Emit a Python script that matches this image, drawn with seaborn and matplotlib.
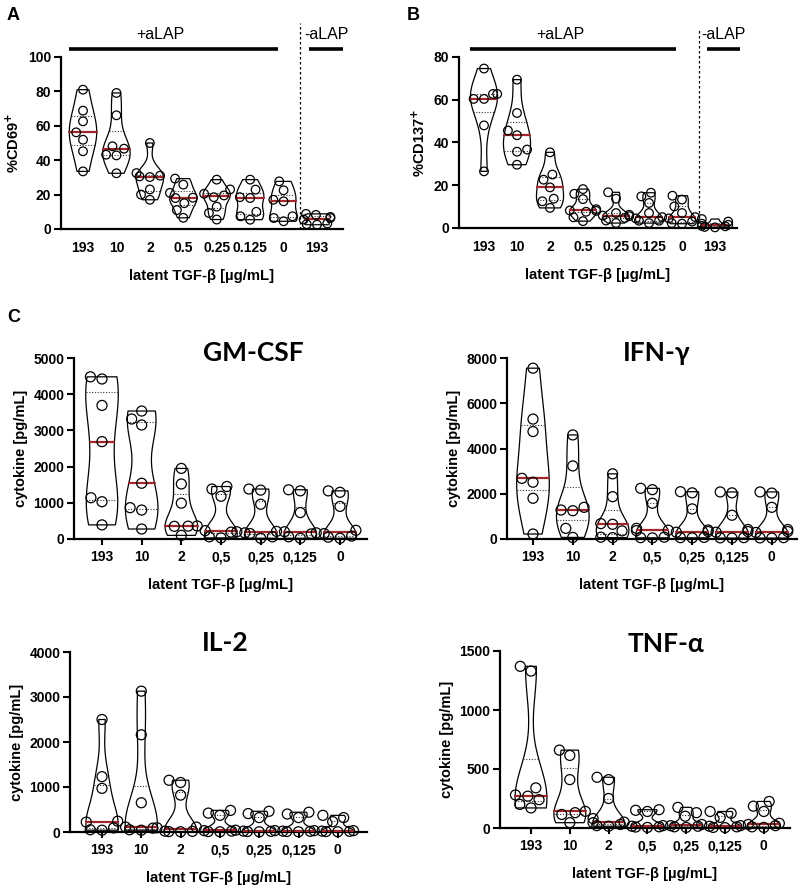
import numpy as np
import pandas as pd
import matplotlib
matplotlib.use("Agg")
import matplotlib.pyplot as plt
import matplotlib.transforms as mtransforms
import seaborn as sns

# ---------------- data ----------------
AB_LABELS = ["193", "10", "2", "0.5", "0.25", "0.125", "0", "193"]
C_LABELS = ["193", "10", "2", "0,5", "0,25", "0,125", "0"]

CD69 = [
    [81.0, 68.8, 62.6, 56.2, 51.9, 45.2, 33.5],
    [79.1, 66.1, 48.1, 46.7, 43.2, 42.8, 32.4],
    [50.0, 32.5, 31.0, 30.6, 30.2, 23.0, 20.0, 17.0],
    [29.3, 25.8, 21.0, 18.2, 18.0, 15.0, 11.0, 6.5],
    [28.7, 23.0, 20.5, 19.5, 18.5, 13.0, 9.3, 5.5],
    [28.7, 22.9, 18.5, 18.0, 10.0, 7.4, 5.4],
    [27.7, 22.5, 17.0, 16.1, 7.4, 6.4, 4.5],
    [8.8, 8.2, 7.0, 6.4, 5.5, 3.2, 2.8, 2.5],
]
CD137 = [
    [74.6, 62.7, 62.7, 60.4, 60.4, 48.0, 26.5],
    [69.4, 53.8, 45.6, 43.4, 36.7, 35.7, 29.6],
    [35.4, 25.0, 22.6, 19.0, 13.7, 12.5, 9.4],
    [18.2, 16.0, 13.5, 8.8, 8.2, 8.0, 7.6, 5.0, 3.2],
    [16.7, 13.7, 7.0, 6.2, 5.8, 5.5, 4.7, 3.5, 2.3],
    [16.5, 14.8, 11.7, 7.0, 5.1, 4.5, 3.4, 3.4, 2.3],
    [15.1, 13.3, 10.1, 7.0, 5.1, 4.5, 3.0, 2.3, 2.0],
    [4.2, 3.0, 2.0, 1.5, 1.0, 0.8, 0.5, 0.3],
]
GMCSF = [
    [4480, 4420, 3690, 2690, 1140, 1030, 390],
    [3535, 3315, 3150, 1540, 865, 800, 276],
    [1950, 1520, 990, 360, 355, 350, 100],
    [1450, 1380, 1180, 230, 200, 190, 60, 30],
    [1380, 1350, 960, 210, 170, 150, 60, 20],
    [1360, 1330, 730, 200, 170, 140, 60, 20],
    [1330, 1290, 900, 240, 150, 80, 50, 20],
]
IFNG = [
    [7550, 5300, 4750, 2680, 2510, 1800, 220],
    [4600, 3230, 1400, 1280, 1250, 470, 70],
    [2880, 1870, 680, 650, 360, 80, 60],
    [2240, 2180, 1580, 470, 390, 370, 80, 60, 50],
    [2090, 2040, 1330, 400, 330, 300, 70, 60, 50],
    [2080, 2040, 1050, 420, 330, 300, 60, 50, 40],
    [2080, 2030, 1400, 420, 330, 290, 60, 50, 40],
]
IL2 = [
    [2500, 1230, 970, 240, 220, 90, 50, 40],
    [3130, 2160, 650, 110, 95, 85, 50, 40],
    [1150, 1100, 820, 110, 20, 15, 10, 5],
    [480, 420, 370, 40, 30, 20, 10, 5],
    [460, 410, 320, 30, 20, 15, 10, 5],
    [440, 400, 320, 30, 20, 15, 10, 5],
    [370, 320, 230, 30, 20, 15, 10, 5],
]
TNFA = [
    [1370, 1330, 340, 280, 270, 240, 200, 170],
    [660, 615, 410, 141, 130, 115, 45],
    [430, 410, 250, 80, 50, 45, 30, 20, 15],
    [155, 150, 140, 20, 15, 10, 8, 5],
    [175, 130, 100, 30, 20, 15, 10, 5],
    [140, 125, 90, 20, 15, 10, 5, 3],
    [225, 185, 140, 40, 30, 20, 10, 5],
]

XLABEL = "latent TGF-β [µg/mL]"
MEDIAN_RED = "#a3262a"

# ---------------- style ----------------
sns.set_theme(style="ticks")
plt.rcParams["font.family"] = ["Liberation Sans", "DejaVu Sans"]
plt.rcParams["font.weight"] = "bold"
plt.rcParams["axes.labelweight"] = "bold"
plt.rcParams["mathtext.default"] = "bf"
plt.rcParams["axes.edgecolor"] = "black"
plt.rcParams["axes.labelcolor"] = "black"
plt.rcParams["text.color"] = "black"
plt.rcParams["xtick.color"] = "black"
plt.rcParams["ytick.color"] = "black"
plt.rcParams["xtick.labelcolor"] = "black"
plt.rcParams["ytick.labelcolor"] = "black"

W, H = 800, 893
fig = plt.figure(figsize=(W / 100, H / 100), dpi=100)


def panel(box, c0, step, labels, groups, ylim, yticks, ylabel,
          xtick_len, msize, ylabelsize=10.5):
    left, top, right, bottom = box
    ax = fig.add_axes([left / W, 1 - bottom / H, (right - left) / W, (bottom - top) / H])
    keys = [f"g{i}" for i in range(len(groups))]
    df = pd.DataFrame({
        "grp": np.repeat(keys, [len(g) for g in groups]),
        "val": np.concatenate([np.asarray(g, float) for g in groups]),
    })
    sns.violinplot(data=df, x="grp", y="val", order=keys, cut=0, inner="quart",
                   density_norm="width", width=0.82, fill=False, color="black",
                   linewidth=0.9, bw_adjust=0.8, ax=ax)
    for i, ln in enumerate(ax.lines):
        if i % 3 == 1:
            ln.set_color(MEDIAN_RED)
            ln.set_linestyle("-")
            ln.set_linewidth(1.6)
            ln.set_zorder(3)
        else:
            ln.set_color("#333333")
            ln.set_linestyle((0, (1, 1.5)))
            ln.set_linewidth(0.8)
    n0 = len(ax.collections)
    sns.swarmplot(data=df, x="grp", y="val", order=keys, size=msize,
                  color="white", edgecolor="black", linewidth=0.9, ax=ax)
    for coll in ax.collections[n0:]:
        coll.set_facecolor("none")
        coll.set_edgecolor("black")
        coll.set_zorder(4)
        coll.set_clip_on(False)

    ax.set_xlim((left - c0) / step, (right - c0) / step)
    ax.set_ylim(*ylim)
    ax.set_yticks(yticks)
    ax.set_xticks(range(len(labels)))
    ax.set_xticklabels(labels)
    ax.set_xlabel(XLABEL, fontsize=10.7, fontweight="bold", labelpad=10)
    ax.set_ylabel(ylabel, fontsize=ylabelsize, fontweight="bold", labelpad=4)
    sns.despine(ax=ax)
    for s in ["left", "bottom"]:
        ax.spines[s].set_linewidth(1.6)
    ax.tick_params(axis="y", length=5, width=1.5, labelsize=10, pad=2)
    if xtick_len:
        ax.tick_params(axis="x", length=xtick_len, width=1.5, labelsize=10, pad=4)
    else:
        ax.tick_params(axis="x", length=0, labelsize=10, pad=9)
    return ax


def alap(ax, dash_top):
    tr = mtransforms.blended_transform_factory(ax.transData, ax.transAxes)
    ax.plot([-0.42, 5.82], [1.047, 1.047], color="black", lw=2.6, transform=tr,
            clip_on=False, solid_capstyle="butt")
    ax.plot([6.75, 7.77], [1.047, 1.047], color="black", lw=2.6, transform=tr,
            clip_on=False, solid_capstyle="butt")
    ax.plot([6.5, 6.5], [0, dash_top], color="black", lw=0.9, ls=(0, (2, 2)),
            transform=tr, clip_on=False)
    ax.text(2.3, 1.105, "+aLAP", transform=tr, ha="center", va="baseline",
            fontsize=11.5, fontweight="normal")
    ax.text(7.27, 1.105, "-aLAP", transform=tr, ha="center", va="baseline",
            fontsize=11.5, fontweight="normal")


# Panel A
axA = panel((61, 57, 343, 229), 83, 33.43, AB_LABELS, CD69, (0, 100),
            [0, 20, 40, 60, 80, 100], "%CD69$^{+}$", 0, 6.2)
alap(axA, 1.198)
# Panel B
axB = panel((459, 57, 737, 228), 484, 33.0, AB_LABELS, CD137, (0, 80),
            [0, 20, 40, 60, 80], "%CD137$^{+}$", 0, 6.2)
alap(axB, 1.17)

# Panel C
axG = panel((74, 358, 367, 539), 102, 39.67, C_LABELS, GMCSF, (0, 5000),
            [0, 1000, 2000, 3000, 4000, 5000], "cytokine [pg/mL]", 4, 7.2)
axI = panel((507, 358, 797, 539), 533, 39.8, C_LABELS, IFNG, (0, 8000),
            [0, 2000, 4000, 6000, 8000], "cytokine [pg/mL]", 4, 7.2)
axL = panel((70, 652, 367, 832), 102, 39.3, C_LABELS, IL2, (0, 4000),
            [0, 1000, 2000, 3000, 4000], "cytokine [pg/mL]", 4, 7.2)
axT = panel((500, 651, 790, 828), 531, 38.8, C_LABELS, TNFA, (0, 1500),
            [0, 500, 1000, 1500], "cytokine [pg/mL]", 4, 7.2)

# titles
for (x, y, t) in [(253, 361, "GM-CSF"), (657, 361, "IFN-γ"),
                  (225, 651, "IL-2"), (666, 652, "TNF-α")]:
    fig.text(x / W, 1 - y / H, t, ha="center", va="baseline", fontsize=19,
             fontweight="bold", family=["Lato", "DejaVu Sans"])

# panel letters
for (x, y, t) in [(7, 20, "A"), (407, 20, "B"), (7, 322, "C")]:
    fig.text(x / W, 1 - y / H, t, ha="left", va="baseline", fontsize=13,
             fontweight="bold")

fig.savefig("out.png", dpi=100)
